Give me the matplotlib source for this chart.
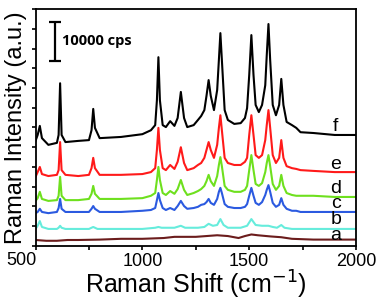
import matplotlib
matplotlib.use("Agg")
import matplotlib.pyplot as plt
from matplotlib.ticker import MultipleLocator, NullFormatter, FuncFormatter

plt.rcParams['font.family'] = ['Liberation Sans', 'DejaVu Sans']

# Raman shift grid (cm^-1) shared by spectra c-f
shift = [500, 510, 520, 530, 560, 600, 608, 615, 622, 640, 700, 750, 762, 770, 778,
         800, 900, 1000, 1040, 1060, 1068, 1075, 1082, 1095, 1110, 1130, 1150, 1165,
         1180, 1195, 1210, 1240, 1260, 1275, 1290, 1300, 1310, 1320, 1335, 1350, 1358,
         1365, 1372, 1385, 1400, 1430, 1460, 1480, 1490, 1500, 1510, 1520, 1530, 1545,
         1560, 1575, 1582, 1590, 1598, 1610, 1625, 1640, 1650, 1660, 1675, 1700, 1720,
         1740, 1800, 1900, 2000]

# intensities (cps, stacked)
f_int = [26600, 28100, 30400, 27300, 25600, 26100, 28100, 41200, 28100, 26300, 26600,
         26800, 29300, 34700, 29900, 27300, 27600, 28300, 29300, 30600, 36900, 47800,
         36900, 30600, 30100, 31600, 30400, 32400, 39000, 32400, 30100, 30600, 31900,
         32900, 34400, 38000, 42000, 38000, 34400, 39500, 47100, 53900, 47100, 34400,
         31900, 30900, 31100, 32400, 34900, 43300, 53400, 43300, 35700, 33900, 35700,
         40700, 48300, 56200, 47100, 35700, 33100, 35700, 42300, 35700, 31400, 30600,
         29900, 28800, 28600, 28100, 28100]
e_int = [17500, 18700, 20000, 18200, 17700, 18000, 19200, 26300, 19200, 18000, 17700,
         18000, 19700, 22300, 19700, 18000, 18000, 18200, 18700, 19700, 24300, 29900,
         24300, 19700, 19200, 20500, 19500, 21300, 25000, 21000, 19200, 19700, 20500,
         21000, 22300, 24300, 26300, 24300, 22300, 25600, 29900, 33100, 29300, 22300,
         21000, 20500, 20500, 21300, 22300, 28100, 33100, 28100, 23000, 22300, 23000,
         26800, 30600, 34400, 29900, 23000, 21000, 22300, 26800, 22300, 20200, 19700,
         19500, 19200, 19000, 18700, 18700]
d_int = [11400, 12100, 13700, 11900, 11400, 11600, 12700, 17500, 12700, 11600, 11600,
         11900, 13200, 15200, 13200, 11900, 11900, 12100, 12700, 13400, 16700, 20000,
         16700, 13400, 12900, 13900, 13200, 14400, 16700, 14200, 12900, 13400, 13900,
         14400, 15200, 16400, 18000, 16400, 15200, 17700, 20500, 22500, 20200, 15200,
         14200, 13700, 13700, 14200, 15200, 19200, 23000, 19200, 15700, 15200, 15900,
         18700, 21000, 23000, 20200, 15700, 14200, 15200, 18000, 15200, 13400, 12900,
         12700, 12700, 12700, 12400, 12400]
c_int = [8300, 8600, 9400, 8600, 8300, 8600, 9600, 11900, 9400, 8600, 8600,
         8600, 9400, 10100, 9400, 8600, 8600, 8900, 9100, 9600, 11600, 13400,
         11600, 9600, 9100, 9600, 9100, 10100, 11400, 10100, 9400, 9600, 9900,
         10400, 10600, 11100, 11900, 10900, 10400, 11900, 13700, 14700, 13400, 10600,
         9900, 9600, 9600, 9900, 10600, 12700, 14700, 12700, 10900, 10400, 11100,
         12900, 14200, 15400, 13700, 10900, 9900, 10400, 12100, 10400, 9400, 8900,
         8900, 8600, 8600, 8600, 8600]

shift_b = [500, 510, 520, 530, 560, 600, 608, 615, 622, 640, 700, 750, 770, 790, 900,
           1000, 1060, 1075, 1090, 1150, 1180, 1200, 1260, 1290, 1310, 1330, 1350, 1365,
           1380, 1400, 1460, 1490, 1510, 1530, 1560, 1590, 1610, 1630, 1650, 1665, 1700,
           1800, 2000]
b_int = [4300, 5100, 6300, 4800, 4300, 4300, 4600, 5100, 4600, 4300, 4300, 4300, 4800,
         4300, 4300, 4300, 4600, 4800, 4600, 4600, 5100, 4600, 4600, 4800, 5600, 5100,
         5300, 6800, 5300, 4600, 4600, 5100, 6800, 5300, 5100, 5100, 4800, 4600, 5300,
         4600, 4300, 4300, 4300]

shift_a = [500, 550, 600, 650, 700, 800, 900, 1000, 1100, 1150, 1200, 1250, 1300, 1350,
           1400, 1450, 1480, 1510, 1540, 1600, 1650, 1700, 1800, 2000]
a_int = [1500, 1300, 1300, 1500, 1500, 1600, 1800, 1800, 2000, 2300, 2300, 2300, 2500,
         2700, 2500, 2000, 2500, 2900, 2700, 2400, 2200, 1800, 1600, 1600]

labels = ['a', 'b', 'c', 'd', 'e', 'f']
label_y = [1500, 5600, 9600, 13500, 19500, 29200]
colors = ['#6b1c1c', '#66ecdc', '#2b5ae0', '#6ee01e', '#ff1a1a', '#000000']

fig = plt.figure(figsize=(3.78, 3.01), dpi=100)
ax = fig.add_axes([0.094, 0.183, 0.848, 0.787])

series = [(shift_a, a_int), (shift_b, b_int), (shift, c_int),
          (shift, d_int), (shift, e_int), (shift, f_int)]
for (xs, ys), col in zip(series, colors):
    ax.plot(xs, ys, color=col, lw=1.5)

for lab, ly in zip(labels, label_y):
    ax.text(1905, ly, lab, ha='center', va='baseline', fontsize=14)

# scale bar
ax.errorbar([591], [51800], yerr=[[5000], [5000]], color='black', lw=1.6,
            capsize=4, capthick=1.6)
ax.text(622, 51800, '10000 cps', fontsize=10.5, fontweight='bold', va='center',
        family=['Open Sans', 'DejaVu Sans'])

ax.set_xlim(500, 2000)
ax.set_ylim(0, 60000)
ax.xaxis.set_major_locator(MultipleLocator(500))
ax.xaxis.set_minor_locator(MultipleLocator(250))
# first label (500) is drawn shifted left, as in the original figure
ax.xaxis.set_major_formatter(FuncFormatter(lambda v, p: '' if v <= 500 else f'{v:.0f}'))
ax.annotate('500', xy=(500, 0), xycoords=('data', 'axes fraction'),
            xytext=(1, -4.5), textcoords='offset points',
            ha='right', va='top', fontsize=13)
ax.yaxis.set_major_locator(MultipleLocator(5000))
ax.yaxis.set_major_formatter(NullFormatter())
ax.tick_params(which='both', direction='out', length=3, width=1.2, labelsize=13, pad=2)
for sp in ax.spines.values():
    sp.set_linewidth(1.3)

ax.set_xlabel('Raman Shift (cm$^{-1}$)', fontsize=18, labelpad=-1)
ax.set_ylabel('Raman Intensity (a.u.)', fontsize=17, labelpad=1)

fig.savefig('out.png', dpi=100)
